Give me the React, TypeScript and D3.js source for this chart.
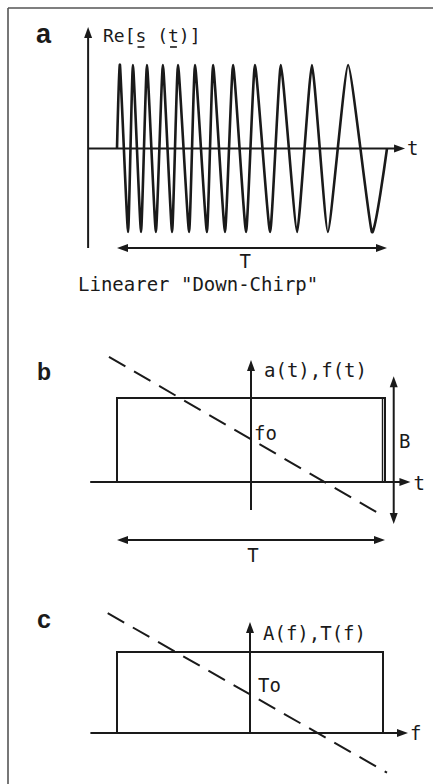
import React from "react";
import * as d3 from "d3";

// Panel a: linear down-chirp, extrema positions on a 0..100 time base (T = 100)
const chirpPeakTimes = [1.1, 5.9, 11.1, 17.0, 22.6, 28.9, 35.6, 43.0, 51.1, 60.7, 72.2, 85.6];
const chirpTroughTimes = [4.1, 8.9, 14.4, 20.4, 26.7, 33.3, 40.0, 47.8, 56.7, 66.7, 78.1, 94.4];
const chirpStart = 0;
const chirpEnd = 100;

// Panel b: envelope a(t) (rectangle) and instantaneous frequency f(t) (dashed)
const envelopeB = { t0: -1, t1: 1, a: 1 };
const freqLineB: [number, number][] = [[-1.06, 1.49], [0.97, -0.39]];

// Panel c: spectrum magnitude A(f) (rectangle) and group delay T(f) (dashed)
const envelopeC = { f0: -1, f1: 1, a: 1 };
const delayLineC: [number, number][] = [[-1.07, 1.48], [1.03, -0.49]];

const W = 433;
const H = 784;
const MONO = "'DejaVu Sans Mono', monospace";
const BOLD = "'Liberation Sans', Arial, sans-serif";
const INK = "#1a1a1a";

function arrowHead(x: number, y: number, dir: "up" | "down" | "left" | "right", len = 11, half = 4) {
  let pts: [number, number][];
  if (dir === "up") pts = [[x, y], [x - half, y + len], [x + half, y + len]];
  else if (dir === "down") pts = [[x, y], [x - half, y - len], [x + half, y - len]];
  else if (dir === "right") pts = [[x, y], [x - len, y - half], [x - len, y + half]];
  else pts = [[x, y], [x + len, y - half], [x + len, y + half]];
  return <polygon points={pts.map((p) => p.join(",")).join(" ")} fill={INK} />;
}

export default function App() {
  // ---- panel a scales
  const xA = d3.scaleLinear().domain([0, 100]).range([117, 387]);
  const yA = d3.scaleLinear().domain([-1, 1]).range([232, 65]);

  const extrema: [number, number][] = [];
  chirpPeakTimes.forEach((t, i) => {
    extrema.push([t, 1]);
    if (chirpTroughTimes[i] !== undefined) extrema.push([chirpTroughTimes[i], -1]);
  });
  const chirpPts: [number, number][] = [[chirpStart, 0], ...extrema, [chirpEnd, 0]];
  // cardinal spline: near-straight flanks, tips rounded in proportion to the period
  const chirpPath = d3
    .line<[number, number]>()
    .x((d) => xA(d[0]))
    .y((d) => yA(d[1]))
    .curve(d3.curveCardinal.tension(0.55))(chirpPts) as string;

  const axA = xA(-10.7);
  const zeroA = yA(0);
  const tipA = xA(106.7);
  const axTopA = 27;
  const axBotA = 248;
  const tArrowYA = 248;

  // ---- panel b scales
  const xB = d3.scaleLinear().domain([-1, 1]).range([117, 385]);
  const yB = d3.scaleLinear().domain([0, 1]).range([482, 398]);
  const dashB = d3.line<[number, number]>().x((d) => xB(d[0])).y((d) => yB(d[1]))(freqLineB) as string;

  // ---- panel c scales
  const xC = d3.scaleLinear().domain([-1, 1]).range([117, 383]);
  const yC = d3.scaleLinear().domain([0, 1]).range([733, 652]);
  const dashC = d3.line<[number, number]>().x((d) => xC(d[0])).y((d) => yC(d[1]))(delayLineC) as string;

  const monoSize = 19;

  return (
    <svg
      width={W}
      height={H}
      viewBox={`0 0 ${W} ${H}`}
      style={{ position: "absolute", left: 0, top: 0, background: "#fff" }}
    >
      <rect x={0} y={0} width={W} height={H} fill="#fff" />
      {/* frame */}
      <line x1={8} y1={8} x2={W} y2={8} stroke="#555" strokeWidth={1.6} />
      <line x1={8} y1={8} x2={8} y2={H} stroke="#555" strokeWidth={1.6} />

      {/* ================= panel a ================= */}
      <text x={36} y={43} fontFamily={BOLD} fontWeight={900} fontSize={27} fill={INK}>a</text>
      <line x1={axA} y1={axTopA + 9} x2={axA} y2={axBotA} stroke={INK} strokeWidth={2} />
      {arrowHead(axA, axTopA, "up")}
      <line x1={axA} y1={zeroA} x2={tipA - 9} y2={zeroA} stroke={INK} strokeWidth={2} />
      {arrowHead(tipA, zeroA, "right")}
      <text x={tipA + 2} y={155} fontFamily={MONO} fontSize={monoSize} fill={INK}>t</text>
      <text x={103} y={42} fontFamily={MONO} fontSize={18} fill={INK}>Re[s (t)]</text>
      <line x1={103 + 3 * 10.84 + 2} y1={47} x2={103 + 4 * 10.84 - 2} y2={47} stroke={INK} strokeWidth={1.6} />
      <line x1={103 + 6 * 10.84 + 2} y1={47} x2={103 + 7 * 10.84 - 2} y2={47} stroke={INK} strokeWidth={1.6} />
      <path d={chirpPath} fill="none" stroke={INK} strokeWidth={2.6} strokeLinejoin="round" />
      {/* duration T */}
      <line x1={xA(0) + 8} y1={tArrowYA} x2={xA(100) - 8} y2={tArrowYA} stroke={INK} strokeWidth={2} />
      {arrowHead(xA(0), tArrowYA, "left")}
      {arrowHead(xA(100), tArrowYA, "right")}
      <text x={xA(47.5)} y={268} fontFamily={MONO} fontSize={monoSize} fill={INK} textAnchor="middle">T</text>
      <text x={78} y={291} fontFamily={MONO} fontSize={monoSize} fill={INK}>Linearer "Down-Chirp"</text>

      {/* ================= panel b ================= */}
      <text x={37} y={380} fontFamily={BOLD} fontWeight={900} fontSize={23} fill={INK}>b</text>
      {/* envelope */}
      <path
        d={`M${xB(envelopeB.t0)},${yB(0)}V${yB(envelopeB.a)}H${xB(envelopeB.t1)}V${yB(0)}`}
        fill="none"
        stroke={INK}
        strokeWidth={2}
      />
      <line x1={xB(envelopeB.t1) - 2.5} y1={yB(envelopeB.a)} x2={xB(envelopeB.t1) - 2.5} y2={yB(0)} stroke={INK} strokeWidth={1.4} />
      {/* axes */}
      <line x1={xB(-1.2)} y1={yB(0)} x2={xB(1.19) - 9} y2={yB(0)} stroke={INK} strokeWidth={2} />
      {arrowHead(xB(1.19), yB(0), "right")}
      <text x={xB(1.19) + 3} y={490} fontFamily={MONO} fontSize={monoSize} fill={INK}>t</text>
      <line x1={xB(0)} y1={yB(1.452) + 9} x2={xB(0)} y2={yB(-0.333)} stroke={INK} strokeWidth={2} />
      {arrowHead(xB(0), yB(1.452), "up")}
      <text x={xB(0) + 13} y={377} fontFamily={MONO} fontSize={monoSize} fill={INK}>a(t),f(t)</text>
      {/* frequency sweep */}
      <path d={dashB} fill="none" stroke={INK} strokeWidth={2} strokeDasharray="19 10" />
      <text x={xB(0) + 3} y={440} fontFamily={MONO} fontSize={monoSize} fill={INK}>fo</text>
      {/* bandwidth B */}
      <line x1={xB(1.065)} y1={yB(1.26) + 9} x2={xB(1.065)} y2={yB(-0.5) - 9} stroke={INK} strokeWidth={2} />
      {arrowHead(xB(1.065), yB(1.26), "up")}
      {arrowHead(xB(1.065), yB(-0.5), "down")}
      <text x={399} y={448} fontFamily={MONO} fontSize={monoSize} fill={INK}>B</text>
      {/* duration T */}
      <line x1={xB(-1) + 8} y1={540} x2={xB(1) - 8} y2={540} stroke={INK} strokeWidth={2} />
      {arrowHead(xB(-1), 540, "left")}
      {arrowHead(xB(1), 540, "right")}
      <text x={xB(0) + 2} y={562} fontFamily={MONO} fontSize={monoSize} fill={INK} textAnchor="middle">T</text>

      {/* ================= panel c ================= */}
      <text x={37} y={628} fontFamily={BOLD} fontWeight={900} fontSize={25} fill={INK}>c</text>
      <path
        d={`M${xC(envelopeC.f0)},${yC(0)}V${yC(envelopeC.a)}H${xC(envelopeC.f1)}V${yC(0)}`}
        fill="none"
        stroke={INK}
        strokeWidth={2}
      />
      <line x1={xC(-1.2)} y1={yC(0)} x2={xC(1.188) - 9} y2={yC(0)} stroke={INK} strokeWidth={2} />
      {arrowHead(xC(1.188), yC(0), "right")}
      <text x={xC(1.188) + 2} y={740} fontFamily={MONO} fontSize={monoSize} fill={INK}>f</text>
      <line x1={xC(0)} y1={yC(1.37) + 9} x2={xC(0)} y2={yC(0)} stroke={INK} strokeWidth={2} />
      {arrowHead(xC(0), yC(1.37), "up")}
      <text x={xC(0) + 13} y={640} fontFamily={MONO} fontSize={monoSize} fill={INK}>A(f),T(f)</text>
      <path d={dashC} fill="none" stroke={INK} strokeWidth={2} strokeDasharray="19 10" />
      <text x={xC(0) + 8} y={692} fontFamily={MONO} fontSize={monoSize} fill={INK}>To</text>
    </svg>
  );
}
